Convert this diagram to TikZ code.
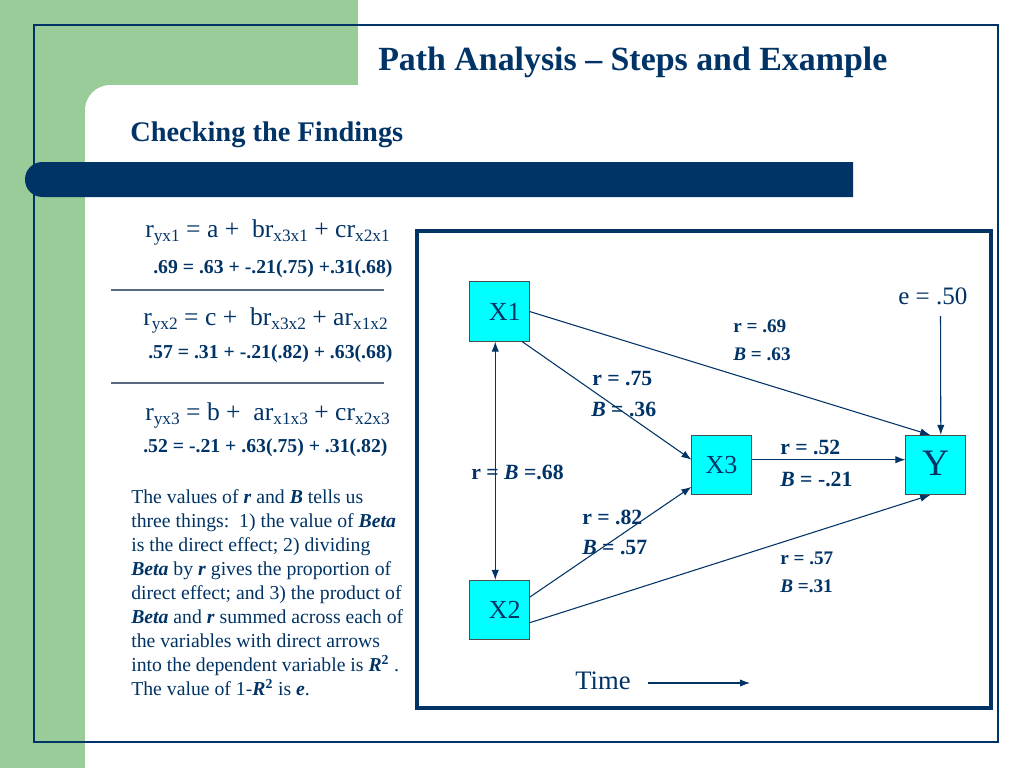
\documentclass[tikz,border=0pt]{standalone}
\usepackage{fontspec}
\setmainfont{Liberation Serif}
\usetikzlibrary{arrows.meta}
\definecolor{navy}{RGB}{0,51,102}
\definecolor{sage}{RGB}{153,204,153}
\definecolor{rulegray}{RGB}{90,105,130}
\definecolor{boxcyan}{RGB}{0,255,255}
\newcommand{\mysub}[1]{\raisebox{-3pt}{\fontsize{13}{13}\selectfont #1}}
\newcommand{\bi}[1]{\textbf{\textit{#1}}}
\newcommand{\offtext}[1]{\hspace*{8pt}\raisebox{-2.5pt}{#1}}
\begin{document}
\begin{tikzpicture}[x=0.75pt,y=-0.75pt,
  every node/.style={text=navy, inner sep=0pt},
  var/.style={draw=black!70, line width=0.6pt, fill=boxcyan, minimum width=44.5pt, minimum height=44.5pt, font=\fontsize{19.5}{19.5}\selectfont},
  conn/.style={draw=navy, line width=0.8pt, -{Latex[length=7.5pt,width=5.5pt]}},
  biconn/.style={draw=navy, line width=0.8pt, {Latex[length=7.5pt,width=5.5pt]}-{Latex[length=7.5pt,width=5.5pt]}},
  lab/.style={anchor=west, font=\bfseries\fontsize{16.3}{16.3}\selectfont},
  smlab/.style={anchor=west, font=\bfseries\fontsize{14.4}{14.4}\selectfont},
  eqn/.style={anchor=base west, font=\fontsize{19.2}{19.2}\selectfont},
  num/.style={anchor=base west, font=\bfseries\fontsize{14.8}{14.8}\selectfont},
  sep/.style={draw=rulegray, line width=1.1pt}
]
\useasboundingbox (0,0) rectangle (1024,768);
% background
\fill[white] (0,0) rectangle (1024,768);
\fill[sage] (0,0) rectangle (358,120);
\fill[sage] (0,0) rectangle (85,768);
\fill[white, rounded corners=19pt] (85,85) rectangle (600,400);
\draw[navy, line width=0.8pt] (34,25) rectangle (998,742);
\fill[navy] (853,162) [rounded corners=13pt] -- (25,162) -- (25,197) [sharp corners] -- (853,197) -- cycle;

% titles
\node[anchor=west, font=\bfseries\fontsize{25.4}{25.4}\selectfont] (title) at (378,62) {Path Analysis – Steps and Example};
\node[anchor=west, font=\bfseries\fontsize{21.3}{21.3}\selectfont] (sub) at (130,135) {Checking the Findings};

% equations
\node[eqn] (eq1) at (145,237) {r\mysub{yx1} = a +\ \ br\mysub{x3x1} + cr\mysub{x2x1}};
\node[num] (n1) at (153,273) {.69 = .63 + -.21(.75) +.31(.68)};
\coordinate (s1a) at (111,290); \coordinate (s1b) at (384,290);
\draw[sep] (s1a) -- (s1b);
\node[eqn] (eq2) at (143,325) {r\mysub{yx2} = c +\ \ br\mysub{x3x2} + ar\mysub{x1x2}};
\node[num] (n2) at (148,358) {.57 = .31 + -.21(.82) + .63(.68)};
\coordinate (s2a) at (111,383); \coordinate (s2b) at (384,383);
\draw[sep] (s2a) -- (s2b);
\node[eqn] (eq3) at (145,420) {r\mysub{yx3} = b +\ \ ar\mysub{x1x3} + cr\mysub{x2x3}};
\node[num] (n3) at (143,452) {.52 = -.21 + .63(.75) + .31(.82)};

% paragraph
\node[anchor=north west, align=left, font=\fontsize{14.8}{18}\selectfont] (para) at (131,489) {%
The values of \bi{r} and \bi{B} tells us\\
three things:\ \ 1) the value of \bi{Beta}\\
is the direct effect; 2) dividing\\
\bi{Beta} by \bi{r} gives the proportion of\\
direct effect; and 3) the product of\\
\bi{Beta} and \bi{r} summed across each of\\
the variables with direct arrows\\
into the dependent variable is \bi{R}\textsuperscript{\textbf{2}} .\\
The value of 1-\bi{R}\textsuperscript{\textbf{2}} is \bi{e}.};

% diagram frame
\draw[navy, line width=2.3pt] (417,231) rectangle (991,708);

% variable boxes
\node[var] (x1) at (499.5,311.5) {\offtext{X1}};
\node[var] (x3) at (721.5,465) {X3};
\node[var, font=\fontsize{28}{28}\selectfont] (y) at (935.5,465) {\raisebox{2pt}{Y}};
\node[var] (x2) at (499.5,610) {\offtext{X2}};

\node[anchor=west, font=\fontsize{18.8}{18.8}\selectfont] (e) at (898,296) {e = .50};
\coordinate (e0) at (940.5,316);

% connectors
\draw[conn] (x1.east) -- (y.100);
\draw[conn] (x1.-53) -- (x3.170);
\draw[conn] (x3.10) -- (y.170);
\draw[conn] (e0) -- (y.80);
\draw[biconn] (x1.-98) -- (x2.98);
\draw[conn] (x2.23) -- (x3.216);
\draw[conn] (x2.-23) -- (y.-100);

% path labels
\node[smlab] (l69) at (733,326) {r = .69};
\node[smlab] (l63) at (733,354) {\bi{B} = .63};
\node[lab] (l75) at (592,379) {r = .75};
\node[lab] (l36) at (591,409) {\bi{B} = .36};
\node[lab] (l52) at (780,447) {r = .52};
\node[lab] (l21) at (780,479) {\bi{B} = -.21};
\node[lab] (l68) at (471,472) {r = \bi{B} =.68};
\node[lab] (l82) at (582,517) {r = .82};
\node[lab] (l57) at (582,548) {\bi{B} = .57};
\node[smlab] (r57) at (780,558) {r = .57};
\node[smlab] (l31) at (780,586) {\bi{B} =.31};

% time
\node[anchor=west, font=\fontsize{20}{20}\selectfont] (time) at (575,681) {Time};
\coordinate (t1) at (648,683); \coordinate (t2) at (750,683);
\draw[conn] (t1) -- (t2);
\end{tikzpicture}
\end{document}
